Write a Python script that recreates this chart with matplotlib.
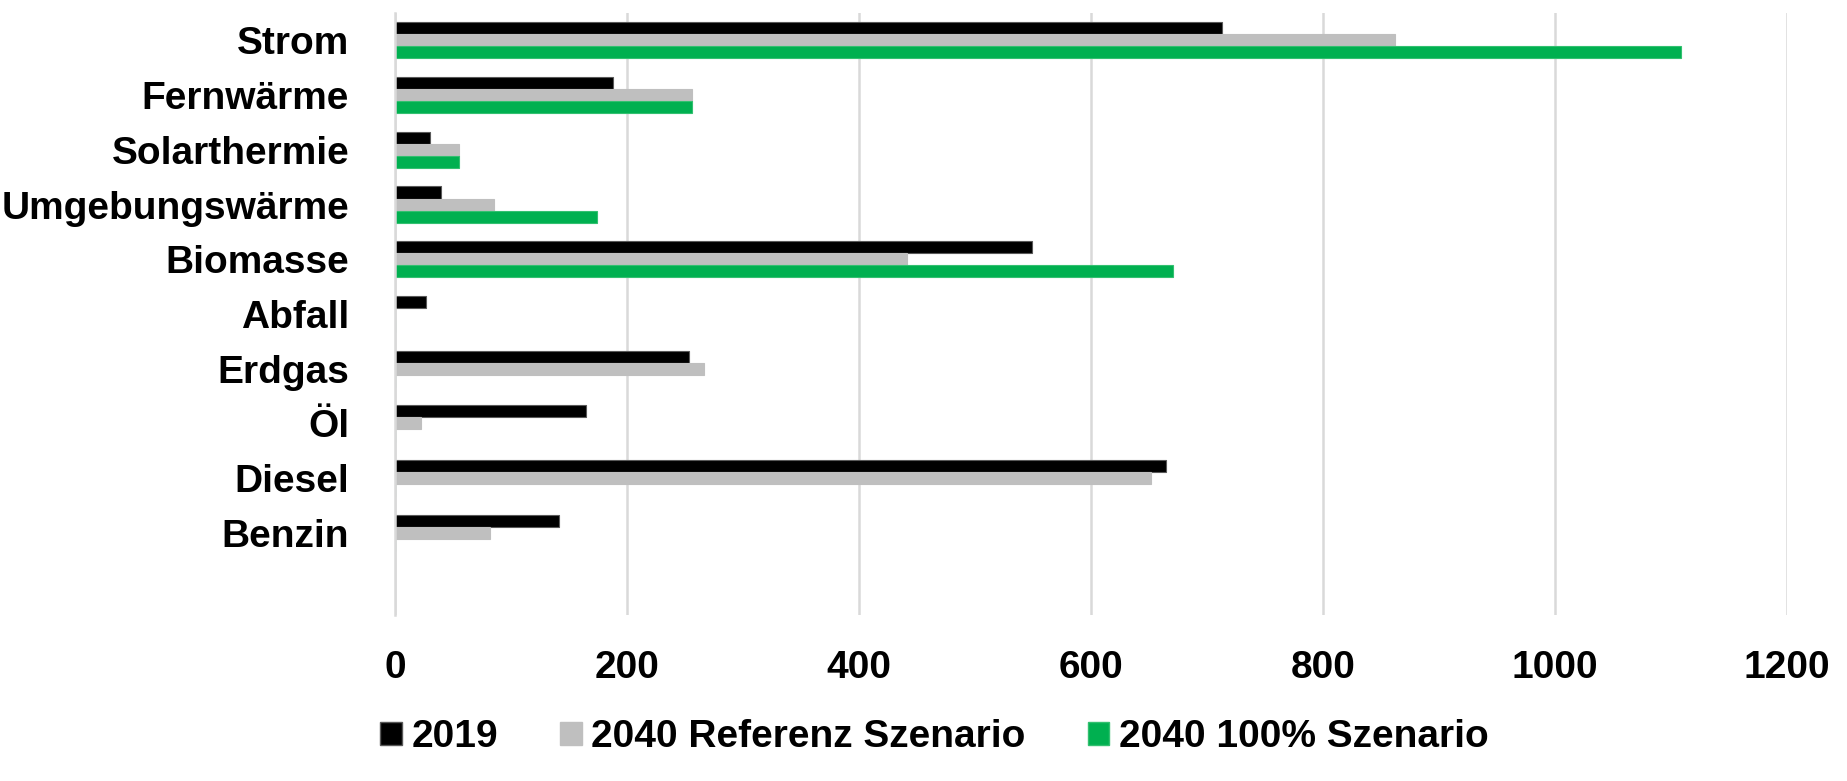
import numpy as np
import matplotlib
matplotlib.use("Agg")
import matplotlib.pyplot as plt
from matplotlib.patches import Patch

# Data
categories = ["Strom", "Fernwärme", "Solarthermie", "Umgebungswärme", "Biomasse",
              "Abfall", "Erdgas", "Öl", "Diesel", "Benzin"]
series_names = ["2019", "2040 Referenz Szenario", "2040 100% Szenario"]
values_2019 = [713, 188, 30, 40, 549, 27, 253, 165, 665, 141]
values_ref = [862, 256, 55, 85, 441, 0, 266, 22, 652, 82]
values_100 = [1109, 256, 55, 174, 671, 0, 0, 0, 0, 0]
x_ticks = [0, 200, 400, 600, 800, 1000, 1200]

colours = ["#000000", "#BFBFBF", "#00B050"]
edges = ["#595959", "#BFBFBF", "#33C070"]

plt.rcParams["font.family"] = ["Liberation Sans", "DejaVu Sans"]
plt.rcParams["font.weight"] = "bold"

fig = plt.figure(figsize=(18.47, 7.81), dpi=100)
ax = fig.add_axes([0.2139, 0.2125, 0.7536, 0.7709])

y = np.arange(len(categories))
bar_h = 0.22
all_values = [values_2019, values_ref, values_100]
for i, vals in enumerate(all_values):
    offset = (i - 1) * bar_h
    ax.barh(y + offset, vals, height=bar_h, color=colours[i],
            edgecolor=edges[i], linewidth=0.8, zorder=3)

ax.set_xlim(0, 1200)
ax.set_ylim(len(categories) + 0.5, -0.5)
ax.set_xticks(x_ticks)
ax.set_xticklabels([str(t) for t in x_ticks], fontsize=28, fontweight="bold")
ax.set_yticks(y)
ax.set_yticklabels(categories, fontsize=28, fontweight="bold")
ax.tick_params(axis="both", length=0)
ax.tick_params(axis="y", pad=33)
ax.tick_params(axis="x", pad=25)

ax.grid(axis="x", color="#D9D9D9", linewidth=1.8, zorder=0)
for side in ["top", "right", "bottom"]:
    ax.spines[side].set_visible(False)
ax.spines["left"].set_color("#D9D9D9")
ax.spines["left"].set_linewidth(1.8)
ax.spines["left"].set_zorder(4)

handles = [Patch(facecolor=colours[i], edgecolor=edges[i], label=series_names[i])
           for i in range(3)]
fig.legend(handles=handles, loc="center", bbox_to_anchor=(0.506, 0.056),
           ncol=3, frameon=False, handlelength=0.55, handleheight=0.55,
           handletextpad=0.25, columnspacing=1.6, prop={"weight": "bold", "size": 28})

fig.savefig("out.png", dpi=100)
